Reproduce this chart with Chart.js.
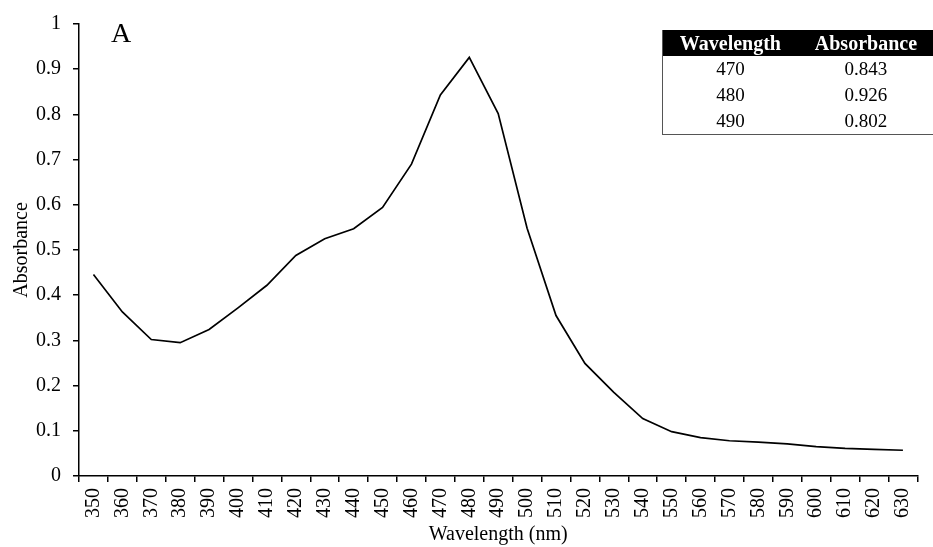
<!DOCTYPE html>
<html>
<head>
<meta charset="utf-8">
<script src="https://cdn.jsdelivr.net/npm/chart.js@4/dist/chart.umd.min.js"></script>
<style>
    html, body { margin: 0; padding: 0; background: #fff; }
    #wrap { position: relative; width: 933px; height: 547px; }
    #panel { position: absolute; left: 111px; top: 17px; font: 28px "Liberation Serif", serif; color: #000; }
    #tabla { position: absolute; left: 662px; top: 30px; width: 272px; border-collapse: collapse;
        font: 19px "Liberation Serif", serif; color: #000; border-left: 1px solid #555; border-bottom: 1px solid #555; }
    #tabla th { background: #000; color: #fff; font-weight: bold; font-size: 20px; height: 26px; padding: 0; text-align: center; line-height: 26px; }
    #tabla td { height: 26px; padding: 0; text-align: center; line-height: 26px; }
</style>
</head>
<body>
<div id="wrap">
    <canvas id="grafico" width="933" height="547"></canvas>
    <div id="panel">A</div>
    <table id="tabla"></table>
</div>
<script>
    // longitudes de onda (nm)
    const longitudes = [350, 360, 370, 380, 390, 400, 410, 420, 430, 440, 450, 460, 470, 480, 490,
        500, 510, 520, 530, 540, 550, 560, 570, 580, 590, 600, 610, 620, 630]
    // absorbancia
    const absorbancia = [0.446, 0.363, 0.302, 0.295, 0.324, 0.372, 0.422, 0.488, 0.525, 0.547, 0.594, 0.690, 0.843, 0.926, 0.802,
        0.548, 0.355, 0.249, 0.185, 0.127, 0.098, 0.085, 0.078, 0.075, 0.071, 0.065, 0.061, 0.059, 0.057]
    // tabla del recuadro
    const tablaCabecera = ['Wavelength', 'Absorbance']
    const tablaLongitud = ['470', '480', '490']
    const tablaValor = ['0.843', '0.926', '0.802']

    // Rellenar la tabla
    const tabla = document.getElementById('tabla')
    let html = '<tr>' + tablaCabecera.map(h => `<th>${h}</th>`).join('') + '</tr>'
    tablaLongitud.forEach((l, i) => {
        html += `<tr><td>${l}</td><td>${tablaValor[i]}</td></tr>`
    })
    tabla.innerHTML = html

    const fuente = { family: '"Liberation Serif", "Times New Roman", serif', size: 20 }

    new Chart(document.getElementById('grafico'), {
        type: 'line',
        data: {
            labels: longitudes,
            datasets: [{
                data: absorbancia,
                borderColor: '#000',
                borderWidth: 1.7,
                pointRadius: 0,
                tension: 0,
                fill: false
            }]
        },
        options: {
            responsive: false,
            animation: false,
            layout: { padding: { top: 23, right: 4, left: 0, bottom: 0 } },
            plugins: { legend: { display: false }, tooltip: { enabled: false } },
            scales: {
                x: {
                    offset: true,
                    grid: { offset: true, drawOnChartArea: false, color: '#000', tickLength: 6, lineWidth: 1.5 },
                    border: { color: '#000', width: 1.5 },
                    ticks: { color: '#000', font: fuente, minRotation: 90, maxRotation: 90, padding: 6, autoSkip: false },
                    title: { display: true, text: 'Wavelength (nm)', color: '#000', font: fuente, padding: { top: -3, bottom: 0 } },
                    afterFit: s => { s.height = 71 }
                },
                y: {
                    min: 0,
                    max: 1,
                    grid: { drawOnChartArea: false, color: '#000', tickLength: 6, lineWidth: 1.5 },
                    border: { color: '#000', width: 1.5 },
                    ticks: { color: '#000', font: fuente, stepSize: 0.1, padding: 12,
                        callback: v => Math.round(v * 10) / 10 },
                    title: { display: true, text: 'Absorbance', color: '#000', font: fuente, padding: { top: 10, bottom: 0 } },
                    afterFit: s => { s.width = 79 }
                }
            }
        }
    })
</script>
</body>
</html>
